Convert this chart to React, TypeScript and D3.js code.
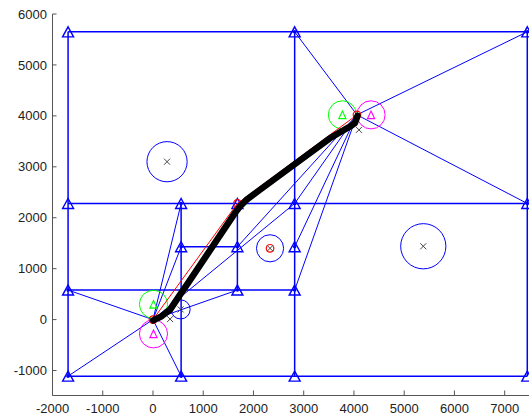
import React from 'react';
import * as d3 from 'd3';

const W = 529;
const H = 418;

const xTicks = [-2000, -1000, 0, 1000, 2000, 3000, 4000, 5000, 6000, 7000];
const yTicks = [-1000, 0, 1000, 2000, 3000, 4000, 5000, 6000];

// graph nodes (triangles)
const nodes: [number, number][] = [
  [-1690, 5650], [2820, 5650], [7450, 5650],
  [-1690, 2280], [560, 2280], [1680, 2280], [2820, 2280], [7450, 2280],
  [560, 1430], [1680, 1430], [2820, 1430],
  [-1690, 580], [1680, 580], [2820, 580],
  [-1690, -1110], [560, -1110], [2820, -1110], [7450, -1110],
];

// axis-aligned edges [x1, y1, x2, y2]
const gridEdges: [number, number, number, number][] = [
  [-1690, 5650, 7450, 5650],
  [-1690, 2280, 7450, 2280],
  [560, 1430, 1680, 1430],
  [-1690, 580, 2820, 580],
  [-1690, -1110, 7450, -1110],
  [-1690, -1110, -1690, 5650],
  [560, -1110, 560, 2280],
  [1680, 580, 1680, 2280],
  [2820, -1110, 2820, 5650],
  [7450, -1110, 7450, 5650],
];

const start: [number, number] = [0, 0];
const goal: [number, number] = [4060, 4020];
const startLinks: [number, number][] = [
  [-1690, 580], [-1690, -1110], [560, -1110], [560, 2280], [560, 1430], [1680, 580], [2820, 2280],
];
const goalLinks: [number, number][] = [
  [2820, 5650], [7450, 5650], [7450, 2280], [2820, 2280], [2820, 1430], [2820, 580], [1680, 1430],
];

// obstacles: [x, y, r]
const obstacles: [number, number, number][] = [
  [280, 3100, 400],
  [5380, 1440, 450],
  [2330, 1400, 270],
  [550, 200, 190],
];
const crossPts: [number, number][] = [
  [280, 3100], [5380, 1440], [2330, 1400], [550, 200], [340, 10], [4100, 3725],
];
const greenPts: [number, number][] = [[10, 300], [3770, 4020]];
const magentaPts: [number, number][] = [[10, -280], [4340, 4020]];
const markerR = 280;

const redPath: [number, number][] = [[0, 0], [1680, 2280], [4060, 4020]];
const redDots: [number, number][] = [[0, 0], [1680, 2280], [4060, 4020], [2330, 1400]];

const blackPath: [number, number][] = [
  [5, -15], [170, 65], [340, 195], [540, 490], [700, 720], [1630, 2090], [1730, 2220],
  [1860, 2350], [2130, 2550], [3520, 3560], [3920, 3790], [4020, 3860], [4070, 4000],
];

export default function App() {
  const x = d3.scaleLinear().domain([-2000, 7500]).range([52.5, 529.8]);
  const y = d3.scaleLinear().domain([-1490, 6000]).range([395.5, 14]);
  const line = d3.line<[number, number]>().x(d => x(d[0])).y(d => y(d[1]));
  const rpx = (r: number) => x(r) - x(0);
  const tri = (px: number, py: number, hw: number, hh: number) =>
    `M${px},${py - hh}L${px + hw},${py + hh}L${px - hw},${py + hh}Z`;
  const blue = '#0000ff';

  return (
    <div style={{ position: 'fixed', left: 0, top: 0 }}>
      <svg width={W} height={H} style={{ display: 'block', background: '#fff' }}>
        {gridEdges.map((e, i) => (
          <line key={'g' + i} x1={x(e[0])} y1={y(e[1])} x2={x(e[2])} y2={y(e[3])}
            stroke={blue} strokeWidth={1.5} />
        ))}
        {startLinks.map((p, i) => (
          <path key={'s' + i} d={line([start, p]) || ''} stroke={blue} strokeWidth={1} fill="none" />
        ))}
        {goalLinks.map((p, i) => (
          <path key={'l' + i} d={line([goal, p]) || ''} stroke={blue} strokeWidth={1} fill="none" />
        ))}
        {[...startLinks, ...goalLinks].map((p, i) => (
          <circle key={'d' + i} cx={x(p[0])} cy={y(p[1])} r={1.8} fill={blue} />
        ))}
        {nodes.map((n, i) => (
          <path key={'n' + i} d={tri(x(n[0]), y(n[1]), 5.5, 5)} fill="none" stroke={blue} strokeWidth={1.4} />
        ))}
        {obstacles.map((o, i) => (
          <circle key={'o' + i} cx={x(o[0])} cy={y(o[1])} r={rpx(o[2])} fill="none" stroke={blue} strokeWidth={1} />
        ))}
        {greenPts.map((p, i) => (
          <g key={'gr' + i}>
            <circle cx={x(p[0])} cy={y(p[1])} r={rpx(markerR)} fill="none" stroke="#00ff00" strokeWidth={1} />
            <path d={tri(x(p[0]), y(p[1]), 3.6, 3.8)} fill="none" stroke="#00ff00" strokeWidth={1.1} />
          </g>
        ))}
        {magentaPts.map((p, i) => (
          <g key={'mg' + i}>
            <circle cx={x(p[0])} cy={y(p[1])} r={rpx(markerR)} fill="none" stroke="#ff00ff" strokeWidth={1} />
            <path d={tri(x(p[0]), y(p[1]), 3.6, 3.8)} fill="none" stroke="#ff00ff" strokeWidth={1.1} />
          </g>
        ))}
        <path d={line(redPath) || ''} stroke="#ff0000" strokeWidth={1} fill="none" />
        {redDots.map((p, i) => (
          <circle key={'rd' + i} cx={x(p[0])} cy={y(p[1])} r={3.8} fill="none" stroke="#ff0000" strokeWidth={1.2} />
        ))}
        <path d={line(blackPath) || ''} stroke="#000" strokeWidth={6.5} fill="none"
          strokeLinejoin="round" strokeLinecap="round" />
        {crossPts.map((p, i) => {
          const cx = x(p[0]), cy = y(p[1]);
          return (
            <path key={'c' + i} d={`M${cx - 3},${cy - 3}L${cx + 3},${cy + 3}M${cx - 3},${cy + 3}L${cx + 3},${cy - 3}`}
              stroke="#444" strokeWidth={1} />
          );
        })}
        <line x1={52.5} y1={14} x2={52.5} y2={395.5} stroke="#555" strokeWidth={1} />
        <line x1={52.5} y1={395.5} x2={W} y2={395.5} stroke="#555" strokeWidth={1} />
        {yTicks.map(t => (
          <g key={'yt' + t}>
            <line x1={52.5} x2={56.5} y1={y(t)} y2={y(t)} stroke="#555" />
            <text x={47} y={y(t) + 4.6} textAnchor="end" fontFamily="Liberation Sans, Arial, sans-serif"
              fontSize={13} fill="#222">{t}</text>
          </g>
        ))}
        {xTicks.map(t => (
          <g key={'xt' + t}>
            <line x1={x(t)} x2={x(t)} y1={395.5} y2={390.5} stroke="#555" />
            <text x={x(t)} y={413} textAnchor="middle" fontFamily="Liberation Sans, Arial, sans-serif"
              fontSize={13} fill="#222">{t}</text>
          </g>
        ))}
      </svg>
    </div>
  );
}
